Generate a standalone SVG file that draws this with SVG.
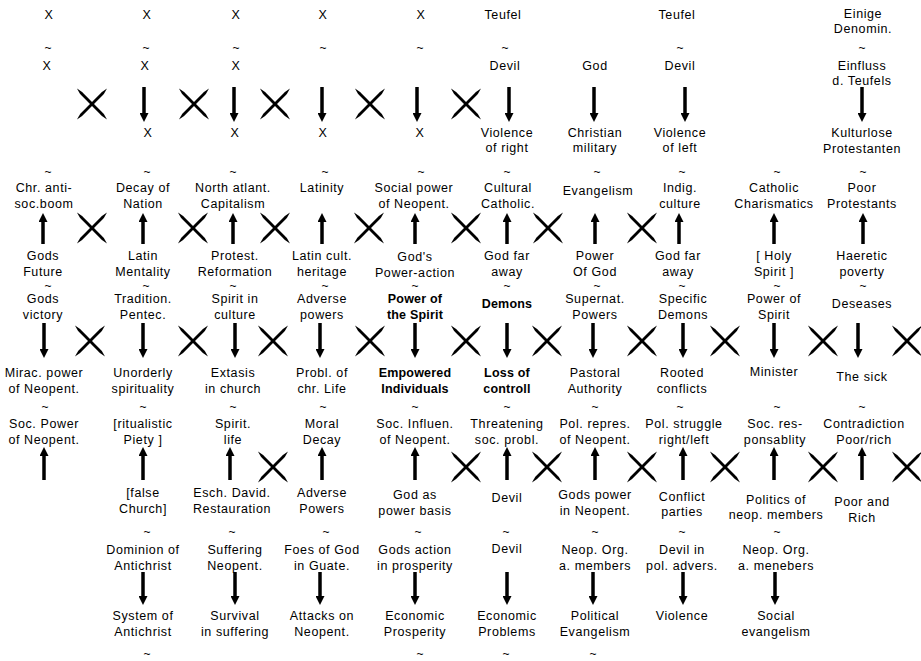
<svg xmlns="http://www.w3.org/2000/svg" xmlns:xlink="http://www.w3.org/1999/xlink" width="921" height="661" viewBox="0 0 921 661">
<style>
text{font-family:"Liberation Sans",Arial,sans-serif;font-size:12.5px;letter-spacing:0.6px;fill:#000;text-anchor:middle}
.b{font-weight:bold;letter-spacing:0.2px}
.t{font-size:12px;letter-spacing:0}
.ar{stroke:#000;stroke-width:3.5;fill:none}
</style>
<defs>
<marker id="ah" markerUnits="userSpaceOnUse" markerWidth="9" markerHeight="9" refX="0" refY="4.5" orient="auto" viewBox="0 0 9 9"><path d="M0,0 L9,4.5 L0,9 z" fill="#000"/></marker>
<g id="cx"><polygon points="-15,-15.5 -11.9,-10.1 9.9,11.9 15,15.5 11.9,10.1 -9.9,-11.9"/><polygon points="15,-15.5 11.9,-10.1 -9.9,11.9 -15,15.5 -11.9,10.1 9.9,-11.9"/></g>
</defs>
<rect width="921" height="661" fill="#fff"/>

<g id="connectors">
<line class="ar" x1="144" y1="87" x2="144" y2="113" marker-end="url(#ah)"/>
<line class="ar" x1="234" y1="87" x2="234" y2="113" marker-end="url(#ah)"/>
<line class="ar" x1="322" y1="87" x2="322" y2="113" marker-end="url(#ah)"/>
<line class="ar" x1="417" y1="87" x2="417" y2="113" marker-end="url(#ah)"/>
<line class="ar" x1="509" y1="87" x2="509" y2="113" marker-end="url(#ah)"/>
<line class="ar" x1="594" y1="87" x2="594" y2="113" marker-end="url(#ah)"/>
<line class="ar" x1="685" y1="87" x2="685" y2="113" marker-end="url(#ah)"/>
<line class="ar" x1="862" y1="87" x2="862" y2="113" marker-end="url(#ah)"/>

<line class="ar" x1="43" y1="244" x2="43" y2="222" marker-end="url(#ah)"/>
<line class="ar" x1="143" y1="244" x2="143" y2="222" marker-end="url(#ah)"/>
<line class="ar" x1="233" y1="244" x2="233" y2="222" marker-end="url(#ah)"/>
<line class="ar" x1="322" y1="244" x2="322" y2="222" marker-end="url(#ah)"/>
<line class="ar" x1="415" y1="244" x2="415" y2="222" marker-end="url(#ah)"/>
<line class="ar" x1="507" y1="244" x2="507" y2="222" marker-end="url(#ah)"/>
<line class="ar" x1="595" y1="244" x2="595" y2="222" marker-end="url(#ah)"/>
<line class="ar" x1="679" y1="244" x2="679" y2="222" marker-end="url(#ah)"/>
<line class="ar" x1="774" y1="244" x2="774" y2="222" marker-end="url(#ah)"/>
<line class="ar" x1="863" y1="244" x2="863" y2="222" marker-end="url(#ah)"/>

<line class="ar" x1="44" y1="323" x2="44" y2="349" marker-end="url(#ah)"/>
<line class="ar" x1="143" y1="323" x2="143" y2="349" marker-end="url(#ah)"/>
<line class="ar" x1="235" y1="323" x2="235" y2="349" marker-end="url(#ah)"/>
<line class="ar" x1="320" y1="323" x2="320" y2="349" marker-end="url(#ah)"/>
<line class="ar" x1="415" y1="323" x2="415" y2="349" marker-end="url(#ah)"/>
<line class="ar" x1="507" y1="323" x2="507" y2="349" marker-end="url(#ah)"/>
<line class="ar" x1="593" y1="323" x2="593" y2="349" marker-end="url(#ah)"/>
<line class="ar" x1="683" y1="323" x2="683" y2="349" marker-end="url(#ah)"/>
<line class="ar" x1="774" y1="323" x2="774" y2="349" marker-end="url(#ah)"/>
<line class="ar" x1="858" y1="323" x2="858" y2="349" marker-end="url(#ah)"/>

<line class="ar" x1="44" y1="480" x2="44" y2="456" marker-end="url(#ah)"/>
<line class="ar" x1="143" y1="480" x2="143" y2="456" marker-end="url(#ah)"/>
<line class="ar" x1="230" y1="480" x2="230" y2="456" marker-end="url(#ah)"/>
<line class="ar" x1="322" y1="480" x2="322" y2="456" marker-end="url(#ah)"/>
<line class="ar" x1="415" y1="480" x2="415" y2="456" marker-end="url(#ah)"/>
<line class="ar" x1="507" y1="480" x2="507" y2="456" marker-end="url(#ah)"/>
<line class="ar" x1="595" y1="480" x2="595" y2="456" marker-end="url(#ah)"/>
<line class="ar" x1="683" y1="480" x2="683" y2="456" marker-end="url(#ah)"/>
<line class="ar" x1="774" y1="480" x2="774" y2="456" marker-end="url(#ah)"/>
<line class="ar" x1="862" y1="480" x2="862" y2="456" marker-end="url(#ah)"/>

<line class="ar" x1="143" y1="572" x2="143" y2="596" marker-end="url(#ah)"/>
<line class="ar" x1="235" y1="572" x2="235" y2="596" marker-end="url(#ah)"/>
<line class="ar" x1="320" y1="572" x2="320" y2="596" marker-end="url(#ah)"/>
<line class="ar" x1="415" y1="572" x2="415" y2="596" marker-end="url(#ah)"/>
<line class="ar" x1="507" y1="572" x2="507" y2="596" marker-end="url(#ah)"/>
<line class="ar" x1="593" y1="572" x2="593" y2="596" marker-end="url(#ah)"/>
<line class="ar" x1="683" y1="572" x2="683" y2="596" marker-end="url(#ah)"/>
<line class="ar" x1="775" y1="572" x2="775" y2="596" marker-end="url(#ah)"/>
</g>

<g id="crosses">
<use xlink:href="#cx" x="92" y="104"/><use xlink:href="#cx" x="194" y="104"/><use xlink:href="#cx" x="275" y="104"/><use xlink:href="#cx" x="370" y="104"/><use xlink:href="#cx" x="466" y="104"/>
<use xlink:href="#cx" x="92" y="228"/><use xlink:href="#cx" x="193" y="228"/><use xlink:href="#cx" x="275" y="228"/><use xlink:href="#cx" x="369" y="228"/><use xlink:href="#cx" x="466" y="228"/><use xlink:href="#cx" x="548" y="228"/><use xlink:href="#cx" x="642" y="228"/>
<use xlink:href="#cx" x="90" y="341"/><use xlink:href="#cx" x="193" y="341"/><use xlink:href="#cx" x="273" y="341"/><use xlink:href="#cx" x="370" y="341"/><use xlink:href="#cx" x="466" y="341"/><use xlink:href="#cx" x="547" y="341"/><use xlink:href="#cx" x="642" y="341"/><use xlink:href="#cx" x="725" y="341"/><use xlink:href="#cx" x="823" y="341"/><use xlink:href="#cx" x="907" y="341"/>
<use xlink:href="#cx" x="273" y="467"/><use xlink:href="#cx" x="466" y="467"/><use xlink:href="#cx" x="547" y="467"/><use xlink:href="#cx" x="642" y="467"/><use xlink:href="#cx" x="725" y="467"/><use xlink:href="#cx" x="823" y="467"/><use xlink:href="#cx" x="907" y="467"/>
</g>

<g id="tildes">
<text class="t" x="48" y="52">~</text><text class="t" x="146" y="52">~</text><text class="t" x="236" y="52">~</text><text class="t" x="323" y="52">~</text><text class="t" x="420" y="52">~</text><text class="t" x="505" y="52">~</text><text class="t" x="680" y="52">~</text><text class="t" x="862" y="52">~</text>
<text class="t" x="48" y="176">~</text><text class="t" x="147" y="176">~</text><text class="t" x="233" y="176">~</text><text class="t" x="325" y="176">~</text><text class="t" x="421" y="176">~</text><text class="t" x="507" y="176">~</text><text class="t" x="597" y="176">~</text><text class="t" x="682" y="176">~</text><text class="t" x="777" y="176">~</text><text class="t" x="863" y="176">~</text>
<text class="t" x="48" y="290">~</text><text class="t" x="146" y="290">~</text><text class="t" x="233" y="290">~</text><text class="t" x="325" y="290">~</text><text class="t" x="415" y="290">~</text><text class="t" x="507" y="290">~</text><text class="t" x="597" y="290">~</text><text class="t" x="682" y="290">~</text><text class="t" x="777" y="290">~</text><text class="t" x="863" y="290">~</text>
<text class="t" x="45" y="411">~</text><text class="t" x="143" y="411">~</text><text class="t" x="233" y="411">~</text><text class="t" x="323" y="411">~</text><text class="t" x="415" y="411">~</text><text class="t" x="507" y="411">~</text><text class="t" x="595" y="411">~</text><text class="t" x="680" y="411">~</text><text class="t" x="777" y="411">~</text><text class="t" x="862" y="411">~</text>
<text class="t" x="147" y="536">~</text><text class="t" x="232" y="536">~</text><text class="t" x="326" y="536">~</text><text class="t" x="418" y="536">~</text><text class="t" x="506" y="536">~</text><text class="t" x="595" y="536">~</text><text class="t" x="682" y="536">~</text><text class="t" x="777" y="536">~</text>
<text class="t" x="147" y="658">~</text><text class="t" x="420" y="658">~</text><text class="t" x="506" y="658">~</text><text class="t" x="593" y="658">~</text>
</g>

<g id="rowA">
<g id="a1"><text x="49" y="19">X</text></g>
<g id="a2"><text x="147" y="19">X</text></g>
<g id="a3"><text x="236" y="19">X</text></g>
<g id="a4"><text x="323" y="19">X</text></g>
<g id="a5"><text x="421" y="19">X</text></g>
<g id="a6"><text x="503" y="19">Teufel</text></g>
<g id="a8"><text x="677" y="19">Teufel</text></g>
<g id="a10"><text><tspan x="863" y="18">Einige</tspan><tspan x="863" y="33">Denomin.</tspan></text></g>
</g>

<g id="rowB">
<g id="b1"><text x="47" y="70">X</text></g>
<g id="b2"><text x="145" y="70">X</text></g>
<g id="b3"><text x="236" y="70">X</text></g>
<g id="b6"><text x="505" y="70">Devil</text></g>
<g id="b7"><text x="595" y="70">God</text></g>
<g id="b8"><text x="680" y="70">Devil</text></g>
<g id="b10"><text><tspan x="862" y="70">Einfluss</tspan><tspan x="862" y="85">d. Teufels</tspan></text></g>
</g>

<g id="rowC">
<g id="c2"><text x="148" y="137">X</text></g>
<g id="c3"><text x="235" y="137">X</text></g>
<g id="c4"><text x="323" y="137">X</text></g>
<g id="c5"><text x="420" y="137">X</text></g>
<g id="c6"><text><tspan x="507" y="137">Violence</tspan><tspan x="507" y="152">of right</tspan></text></g>
<g id="c7"><text><tspan x="595" y="137">Christian</tspan><tspan x="595" y="152">military</tspan></text></g>
<g id="c8"><text><tspan x="680" y="137">Violence</tspan><tspan x="680" y="152">of left</tspan></text></g>
<g id="c10"><text><tspan x="862" y="137">Kulturlose</tspan><tspan x="862" y="153">Protestanten</tspan></text></g>
</g>

<g id="rowD">
<g id="d1"><text><tspan x="44" y="192">Chr. anti-</tspan><tspan x="44" y="208">soc.boom</tspan></text></g>
<g id="d2"><text><tspan x="143" y="192">Decay of</tspan><tspan x="143" y="208">Nation</tspan></text></g>
<g id="d3"><text><tspan x="233" y="192">North atlant.</tspan><tspan x="233" y="208">Capitalism</tspan></text></g>
<g id="d4"><text x="322" y="192">Latinity</text></g>
<g id="d5"><text><tspan x="414" y="192">Social power</tspan><tspan x="414" y="208">of Neopent.</tspan></text></g>
<g id="d6"><text><tspan x="508" y="192">Cultural</tspan><tspan x="508" y="208">Catholic.</tspan></text></g>
<g id="d7"><text x="598" y="195">Evangelism</text></g>
<g id="d8"><text><tspan x="680" y="192">Indig.</tspan><tspan x="680" y="208">culture</tspan></text></g>
<g id="d9"><text><tspan x="774" y="192">Catholic</tspan><tspan x="774" y="208">Charismatics</tspan></text></g>
<g id="d10"><text><tspan x="862" y="192">Poor</tspan><tspan x="862" y="208">Protestants</tspan></text></g>
</g>

<g id="rowE">
<g id="e1"><text><tspan x="43" y="260">Gods</tspan><tspan x="43" y="276">Future</tspan></text></g>
<g id="e2"><text><tspan x="143" y="260">Latin</tspan><tspan x="143" y="276">Mentality</tspan></text></g>
<g id="e3"><text><tspan x="235" y="260">Protest.</tspan><tspan x="235" y="276">Reformation</tspan></text></g>
<g id="e4"><text><tspan x="322" y="260">Latin cult.</tspan><tspan x="322" y="276">heritage</tspan></text></g>
<g id="e5"><text><tspan x="415" y="261">God's</tspan><tspan x="415" y="277">Power-action</tspan></text></g>
<g id="e6"><text><tspan x="507" y="260">God far</tspan><tspan x="507" y="276">away</tspan></text></g>
<g id="e7"><text><tspan x="595" y="260">Power</tspan><tspan x="595" y="276">Of God</tspan></text></g>
<g id="e8"><text><tspan x="678" y="260">God far</tspan><tspan x="678" y="276">away</tspan></text></g>
<g id="e9"><text><tspan x="774" y="260">[ Holy</tspan><tspan x="774" y="276">Spirit ]</tspan></text></g>
<g id="e10"><text><tspan x="862" y="260">Haeretic</tspan><tspan x="862" y="276">poverty</tspan></text></g>
</g>

<g id="rowF">
<g id="f1"><text><tspan x="43" y="303">Gods</tspan><tspan x="43" y="319">victory</tspan></text></g>
<g id="f2"><text><tspan x="143" y="303">Tradition.</tspan><tspan x="143" y="319">Pentec.</tspan></text></g>
<g id="f3"><text><tspan x="235" y="303">Spirit in</tspan><tspan x="235" y="319">culture</tspan></text></g>
<g id="f4"><text><tspan x="322" y="303">Adverse</tspan><tspan x="322" y="319">powers</tspan></text></g>
<g id="f5"><text class="b"><tspan x="415" y="303">Power of</tspan><tspan x="415" y="319">the Spirit</tspan></text></g>
<g id="f6"><text class="b" x="507" y="308">Demons</text></g>
<g id="f7"><text><tspan x="595" y="303">Supernat.</tspan><tspan x="595" y="319">Powers</tspan></text></g>
<g id="f8"><text><tspan x="683" y="303">Specific</tspan><tspan x="683" y="319">Demons</tspan></text></g>
<g id="f9"><text><tspan x="774" y="303">Power of</tspan><tspan x="774" y="319">Spirit</tspan></text></g>
<g id="f10"><text x="862" y="308">Deseases</text></g>
</g>

<g id="rowG">
<g id="g1"><text><tspan x="44" y="377">Mirac. power</tspan><tspan x="44" y="393">of Neopent.</tspan></text></g>
<g id="g2"><text><tspan x="143" y="377">Unorderly</tspan><tspan x="143" y="393">spirituality</tspan></text></g>
<g id="g3"><text><tspan x="233" y="377">Extasis</tspan><tspan x="233" y="393">in church</tspan></text></g>
<g id="g4"><text><tspan x="322" y="377">Probl. of</tspan><tspan x="322" y="393">chr. Life</tspan></text></g>
<g id="g5"><text class="b"><tspan x="415" y="377">Empowered</tspan><tspan x="415" y="393">Individuals</tspan></text></g>
<g id="g6"><text class="b"><tspan x="507" y="377">Loss of</tspan><tspan x="507" y="393">controll</tspan></text></g>
<g id="g7"><text><tspan x="595" y="377">Pastoral</tspan><tspan x="595" y="393">Authority</tspan></text></g>
<g id="g8"><text><tspan x="682" y="377">Rooted</tspan><tspan x="682" y="393">conflicts</tspan></text></g>
<g id="g9"><text x="774" y="376">Minister</text></g>
<g id="g10"><text x="862" y="381">The sick</text></g>
</g>

<g id="rowH">
<g id="h1"><text><tspan x="44" y="428">Soc. Power</tspan><tspan x="44" y="444">of Neopent.</tspan></text></g>
<g id="h2"><text><tspan x="143" y="428">[ritualistic</tspan><tspan x="143" y="444">Piety ]</tspan></text></g>
<g id="h3"><text><tspan x="233" y="428">Spirit.</tspan><tspan x="233" y="444">life</tspan></text></g>
<g id="h4"><text><tspan x="322" y="428">Moral</tspan><tspan x="322" y="444">Decay</tspan></text></g>
<g id="h5"><text><tspan x="415" y="428">Soc. Influen.</tspan><tspan x="415" y="444">of Neopent.</tspan></text></g>
<g id="h6"><text><tspan x="507" y="428">Threatening</tspan><tspan x="507" y="444">soc. probl.</tspan></text></g>
<g id="h7"><text><tspan x="595" y="428">Pol. repres.</tspan><tspan x="595" y="444">of Neopent.</tspan></text></g>
<g id="h8"><text><tspan x="684" y="428">Pol. struggle</tspan><tspan x="684" y="444">right/left</tspan></text></g>
<g id="h9"><text><tspan x="775" y="428">Soc. res-</tspan><tspan x="775" y="444">ponsablity</tspan></text></g>
<g id="h10"><text><tspan x="864" y="428">Contradiction</tspan><tspan x="864" y="444">Poor/rich</tspan></text></g>
</g>

<g id="rowI">
<g id="i2"><text><tspan x="143" y="497">[false</tspan><tspan x="143" y="513">Church]</tspan></text></g>
<g id="i3"><text><tspan x="232" y="497">Esch. David.</tspan><tspan x="232" y="513">Restauration</tspan></text></g>
<g id="i4"><text><tspan x="322" y="497">Adverse</tspan><tspan x="322" y="513">Powers</tspan></text></g>
<g id="i5"><text><tspan x="415" y="499">God as</tspan><tspan x="415" y="515">power basis</tspan></text></g>
<g id="i6"><text x="507" y="502">Devil</text></g>
<g id="i7"><text><tspan x="595" y="499">Gods power</tspan><tspan x="595" y="515">in Neopent.</tspan></text></g>
<g id="i8"><text><tspan x="682" y="501">Conflict</tspan><tspan x="682" y="516">parties</tspan></text></g>
<g id="i9"><text><tspan x="776" y="504">Politics of</tspan><tspan x="776" y="519">neop. members</tspan></text></g>
<g id="i10"><text><tspan x="862" y="506">Poor and</tspan><tspan x="862" y="522">Rich</tspan></text></g>
</g>

<g id="rowJ">
<g id="j2"><text><tspan x="143" y="554">Dominion of</tspan><tspan x="143" y="570">Antichrist</tspan></text></g>
<g id="j3"><text><tspan x="235" y="554">Suffering</tspan><tspan x="235" y="570">Neopent.</tspan></text></g>
<g id="j4"><text><tspan x="322" y="554">Foes of God</tspan><tspan x="322" y="570">in Guate.</tspan></text></g>
<g id="j5"><text><tspan x="415" y="554">Gods action</tspan><tspan x="415" y="570">in prosperity</tspan></text></g>
<g id="j6"><text x="507" y="553">Devil</text></g>
<g id="j7"><text><tspan x="595" y="554">Neop. Org.</tspan><tspan x="595" y="570">a. members</tspan></text></g>
<g id="j8"><text><tspan x="682" y="554">Devil in</tspan><tspan x="682" y="570">pol. advers.</tspan></text></g>
<g id="j9"><text><tspan x="776" y="554">Neop. Org.</tspan><tspan x="776" y="570">a. menebers</tspan></text></g>
</g>

<g id="rowK">
<g id="k2"><text><tspan x="143" y="620">System of</tspan><tspan x="143" y="636">Antichrist</tspan></text></g>
<g id="k3"><text><tspan x="235" y="620">Survival</tspan><tspan x="235" y="636">in suffering</tspan></text></g>
<g id="k4"><text><tspan x="322" y="620">Attacks on</tspan><tspan x="322" y="636">Neopent.</tspan></text></g>
<g id="k5"><text><tspan x="415" y="620">Economic</tspan><tspan x="415" y="636">Prosperity</tspan></text></g>
<g id="k6"><text><tspan x="507" y="620">Economic</tspan><tspan x="507" y="636">Problems</tspan></text></g>
<g id="k7"><text><tspan x="595" y="620">Political</tspan><tspan x="595" y="636">Evangelism</tspan></text></g>
<g id="k8"><text x="682" y="620">Violence</text></g>
<g id="k9"><text><tspan x="776" y="620">Social</tspan><tspan x="776" y="636">evangelism</tspan></text></g>
</g>
</svg>
